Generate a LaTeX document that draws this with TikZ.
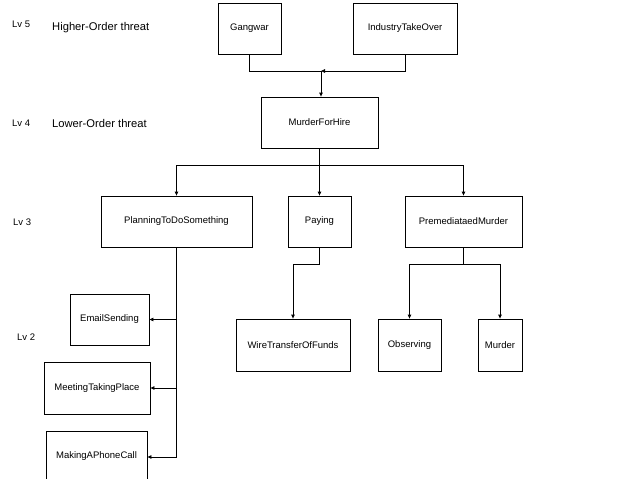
\documentclass[tikz,border=0pt]{standalone}
\usepackage{fontspec}
\setmainfont{Liberation Sans}
\usetikzlibrary{arrows.meta}
\tikzset{
  box/.style={draw, line width=0.8pt, inner sep=0pt, font=\fontsize{9.5}{11}\selectfont},
  lvl/.style={anchor=west, inner sep=0pt, font=\fontsize{9.5}{11}\selectfont},
  head/.style={anchor=west, inner sep=0pt, font=\fontsize{11.2}{13}\selectfont},
  conn/.style={line width=0.8pt},
  arr/.style={line width=0.8pt, -{Triangle[length=4pt,width=3.5pt]}}
}
\begin{document}
\begin{tikzpicture}[x=1pt,y=-1pt]
\useasboundingbox (0,0) rectangle (624,479);
% level labels
\node[lvl] (l5) at (12,24) {Lv 5};
\node[head] (h5) at (52,28) {Higher-Order threat};
\node[lvl] (l4) at (12,123) {Lv 4};
\node[head] (h4) at (52,123) {Lower-Order threat};
\node[lvl] (l3) at (13,222) {Lv 3};
\node[lvl] (l2) at (17,337) {Lv 2};
% boxes
\node[box, minimum width=63pt, minimum height=51pt] (gang) at (249.5,28.5) {Gangwar};
\node[box, minimum width=104pt, minimum height=51pt] (ind) at (405,28.5) {IndustryTakeOver};
\node[box, minimum width=117pt, minimum height=51pt] (mfh) at (319.5,122.5) {MurderForHire};
\node[box, minimum width=151pt, minimum height=51pt] (plan) at (176.5,221.5) {PlanningToDoSomething};
\node[box, minimum width=63pt, minimum height=51pt] (pay) at (319.5,221.5) {Paying};
\node[box, minimum width=117pt, minimum height=51pt] (prem) at (463.5,221.5) {PremediataedMurder};
\node[box, minimum width=79pt, minimum height=51pt] (email) at (109.5,319.5) {EmailSending};
\node[box, minimum width=106pt, minimum height=52pt] (meet) at (97,388) {MeetingTakingPlace};
\node[box, minimum width=101pt, minimum height=50pt] (phone) at (96.5,456) {MakingAPhoneCall};
\node[box, minimum width=114pt, minimum height=52pt] (wire) at (293,345) {WireTransferOfFunds};
\node[box, minimum width=63pt, minimum height=52pt] (obs) at (409.5,345) {Observing};
\node[box, minimum width=44pt, minimum height=52pt] (mur) at (500,345) {Murder};
% junction coordinates
\coordinate (j5) at (321,71);
\coordinate (j4) at (319.5,165);
\coordinate (jp) at (319.5,264);
\coordinate (jm) at (463.5,264);
\coordinate (jl) at (176.5,457);
% level 5 -> 4
\draw[conn] (gang.south) |- (j5);
\draw[arr] (ind.south) |- (j5);
\draw[arr] (j5) -- (j5 |- mfh.north);
% level 4 -> 3
\draw[conn] (mfh.south) -- (j4);
\draw[arr] (j4) -| (plan.north);
\draw[arr] (j4) -| (prem.north);
\draw[arr] (j4) -- (pay.north);
% planning -> children
\draw[conn] (plan.south) -- (jl);
\draw[arr] (plan.south |- email.east) -- (email.east);
\draw[arr] (plan.south |- meet.east) -- (meet.east);
\draw[arr] (jl) -- (jl -| phone.east);
% paying -> wire
\draw[conn] (pay.south) -- (jp);
\draw[arr] (jp) -| (wire.north);
% premed -> children
\draw[conn] (prem.south) -- (jm);
\draw[arr] (jm) -| (obs.north);
\draw[arr] (jm) -| (mur.north);
\end{tikzpicture}
\end{document}
